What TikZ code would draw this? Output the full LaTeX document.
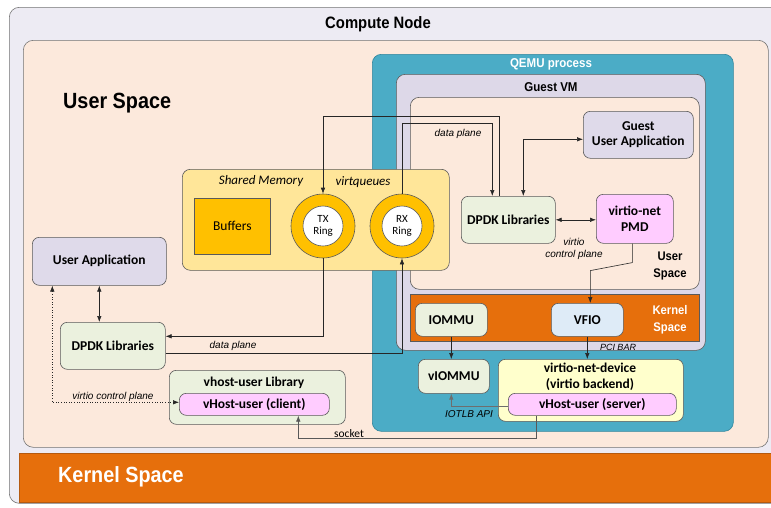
\documentclass[tikz,border=0pt]{standalone}
\usepackage{fontspec}
\setmainfont{Carlito}
\newfontfamily\hf[FakeStretch=0.9]{Liberation Sans}
\newfontfamily\lf{Liberation Sans}
\usetikzlibrary{arrows.meta,calc}
\definecolor{frameC}{HTML}{EDEBF3}
\definecolor{userC}{HTML}{FCE9DC}
\definecolor{qemuC}{HTML}{4BACC6}
\definecolor{qemuB}{HTML}{31859C}
\definecolor{gvmC}{HTML}{DDD8E8}
\definecolor{appC}{HTML}{DFDAEA}
\definecolor{dpdkC}{HTML}{EBF1DE}
\definecolor{pinkC}{HTML}{FFCCFF}
\definecolor{orangeC}{HTML}{E66F0C}
\definecolor{orangeB}{HTML}{B55A10}
\definecolor{shmC}{HTML}{FFE699}
\definecolor{goldC}{HTML}{FFC000}
\definecolor{vfioC}{HTML}{DEEBF7}
\definecolor{vndC}{HTML}{FFFFCC}
\definecolor{bord}{HTML}{5A5A5A}
\definecolor{lineC}{HTML}{262626}
\definecolor{grayL}{HTML}{6E6E6E}
\newcommand\boxfont{\fontsize{13.5}{15.5}\selectfont\bfseries}
\newcommand\labfont{\lf\itshape\fontsize{10}{11.5}\selectfont}
\tikzset{
  box/.style={draw=bord, line width=0.6pt, rounded corners=7pt, anchor=north west, inner sep=0pt, align=center, font=\boxfont},
  sqbox/.style={box, rounded corners=0pt},
  lab/.style={inner sep=0pt, align=center, font=\labfont},
  arr/.style={draw=lineC, line width=0.6pt, -{Latex[length=6pt,width=4.5pt]}},
  darr/.style={draw=lineC, line width=0.6pt, {Latex[length=6pt,width=4.5pt]}-{Latex[length=6pt,width=4.5pt]}},
  garr/.style={draw=grayL, line width=0.8pt, -{Latex[length=6pt,width=4.5pt]}},
  ring/.style={circle, draw=bord, line width=0.6pt, fill=goldC, minimum size=64pt, inner sep=0pt},
  ringin/.style={circle, draw=bord, line width=0.6pt, fill=white, minimum size=40pt, inner sep=0pt, align=center, font=\fontsize{11}{12.5}\selectfont},
}
\begin{document}
\begin{tikzpicture}[x=1pt,y=-1pt]
\useasboundingbox (0,0) rectangle (771,507);
% containers
\node[box, fill=frameC, rounded corners=10pt, draw=black!55, minimum width=790, minimum height=496] (compute) at (9,7) {};
\node[font=\hf\bfseries\fontsize{16.5}{18}\selectfont, inner sep=0pt] (computet) at (378,24) {Compute Node};
\node[box, fill=userC, rounded corners=10pt, draw=black!55, minimum width=745, minimum height=407] (userspace) at (23,40) {};
\node[font=\hf\bfseries\fontsize{22}{24}\selectfont, inner sep=0pt, anchor=west] (userspacet) at (63,103) {User Space};
\node[sqbox, fill=orangeC, draw=orangeB, minimum width=790, minimum height=49] (kernelbar) at (19,453) {};
\node[font=\hf\bfseries\fontsize{22}{24}\selectfont, text=white, inner sep=0pt, anchor=west] (kernelt) at (58,477) {Kernel Space};
\node[box, fill=qemuC, draw=qemuB, rounded corners=9pt, minimum width=361, minimum height=377] (qemu) at (372,54) {};
\node[font=\hf\bfseries\fontsize{12.8}{14}\selectfont, text=white, inner sep=0pt] (qemut) at (551,64) {QEMU process};
\node[box, fill=gvmC, rounded corners=9pt, minimum width=309, minimum height=276] (guestvm) at (396,74) {};
\node[font=\hf\bfseries\fontsize{12.8}{14}\selectfont, inner sep=0pt] (guestvmt) at (551,87) {Guest VM};
\node[box, fill=userC, rounded corners=9pt, minimum width=289, minimum height=192] (guestus) at (410,97) {};
\node[font=\hf\bfseries\fontsize{12.5}{16.5}\selectfont, inner sep=0pt, align=center] (guestust) at (670,266) {User\\Space};
\node[sqbox, fill=orangeC, draw=bord, minimum width=289, minimum height=47] (guestks) at (410,294) {};
\node[font=\hf\bfseries\fontsize{12.5}{16.5}\selectfont, text=white, inner sep=0pt, align=center] (guestkst) at (670,320) {Kernel\\Space};
% shared memory
\node[box, fill=shmC, rounded corners=8pt, minimum width=267, minimum height=101] (shm) at (182,169) {};
\node[inner sep=0pt, font=\itshape\fontsize{13}{14}\selectfont] (shmt) at (261,181) {Shared Memory};
\node[inner sep=0pt, font=\itshape\fontsize{13}{14}\selectfont] (vqt) at (363,182) {virtqueues};
\node[sqbox, fill=goldC, minimum width=76, minimum height=56, font=\fontsize{13.5}{15}\selectfont] (buffers) at (194,198) {Buffers};
\node[ring] (tx) at (323,226) {};
\node[ringin] (txin) at (tx) {TX\\Ring};
\node[ring] (rx) at (402,226) {};
\node[ringin] (rxin) at (rx) {RX\\Ring};
% host boxes
\node[box, fill=appC, minimum width=134, minimum height=48] (hostapp) at (32,237) {User Application};
\node[box, fill=dpdkC, minimum width=105, minimum height=47] (hostdpdk) at (60,322) {DPDK Libraries};
\node[box, fill=dpdkC, minimum width=176, minimum height=54] (vhostlib) at (169,370) {};
\node[inner sep=0pt, font=\boxfont] (vhostlibt) at (254,383) {vhost-user Library};
\node[box, fill=pinkC, rounded corners=7pt, minimum width=150, minimum height=22] (client) at (179,393) {vHost-user (client)};
% guest boxes
\node[box, fill=appC, minimum width=110, minimum height=47] (guestapp) at (583,111) {Guest\\User Application};
\node[box, fill=dpdkC, minimum width=94, minimum height=47] (guestdpdk) at (461,196) {DPDK Libraries};
\node[box, fill=pinkC, minimum width=77, minimum height=49] (pmd) at (596,194) {virtio-net\\PMD};
\node[box, fill=dpdkC, minimum width=72, minimum height=33] (iommu) at (415,303) {IOMMU};
\node[box, fill=vfioC, minimum width=72, minimum height=33] (vfio) at (551,303) {VFIO};
\node[box, fill=dpdkC, minimum width=71, minimum height=34] (viommu) at (418,359) {vIOMMU};
\node[box, fill=vndC, minimum width=185, minimum height=62] (vnd) at (498,359) {};
\node[inner sep=0pt, font=\boxfont, align=center] (vndt) at (590,377) {virtio-net-device\\(virtio backend)};
\node[box, fill=pinkC, minimum width=168, minimum height=22] (server) at (508,393) {vHost-user (server)};
% connectors
\draw[arr] ([xshift=-9pt]guestdpdk.north) -- ++(0,-80) -| (tx.north);
\draw[arr] (rx.north) -- ++(0,-70) -| ([xshift=-16pt]guestdpdk.north);
\node[lab] (dp1) at (458,134) {data plane};
\draw[darr] ([xshift=15pt]guestdpdk.north) |- ([yshift=-4.5pt]guestapp.west);
\draw[darr] (guestdpdk.east) -- (guestdpdk.east -| pmd.west);
\node[lab] (vcp1) at (574,249) {virtio\\control plane};
\draw[arr] ([xshift=-2.5pt]pmd.south) -- ++(0,19) -- ++(-42,8) -- ([xshift=3pt]vfio.north);
\draw[arr] (vfio.south) -- (vfio.south |- vnd.north);
\node[lab, font=\lf\itshape\fontsize{9}{10}\selectfont] (pcibar) at (618,347) {PCI BAR};
\draw[arr] (iommu.south) -- (iommu.south |- viommu.north);
\draw[garr] ([yshift=-2pt]server.west) -| ([xshift=-2.5pt]viommu.south);
\node[lab] (iotlb) at (469,414) {IOTLB API};
\draw[arr, draw=grayL!80!black] ([xshift=-56pt]server.south) -- ++(0,23) -| ([xshift=44pt]client.south);
\node[inner sep=0pt, font=\fontsize{11.5}{13}\selectfont] (sockett) at (349,434) {socket};
\draw[arr] (tx.south) |- ([yshift=9.5pt]hostdpdk.east);
\draw[arr] ([yshift=-7.5pt]hostdpdk.east) -| (rx.south);
\node[lab] (dp2) at (233,346) {data plane};
\draw[darr] (hostapp.south) -- (hostapp.south |- hostdpdk.north);
\draw[darr, dotted] ([yshift=2pt]client.west) -| ([xshift=-47pt]hostapp.south);
\node[lab] (vcp2) at (113,397) {virtio control plane};
\end{tikzpicture}
\end{document}
